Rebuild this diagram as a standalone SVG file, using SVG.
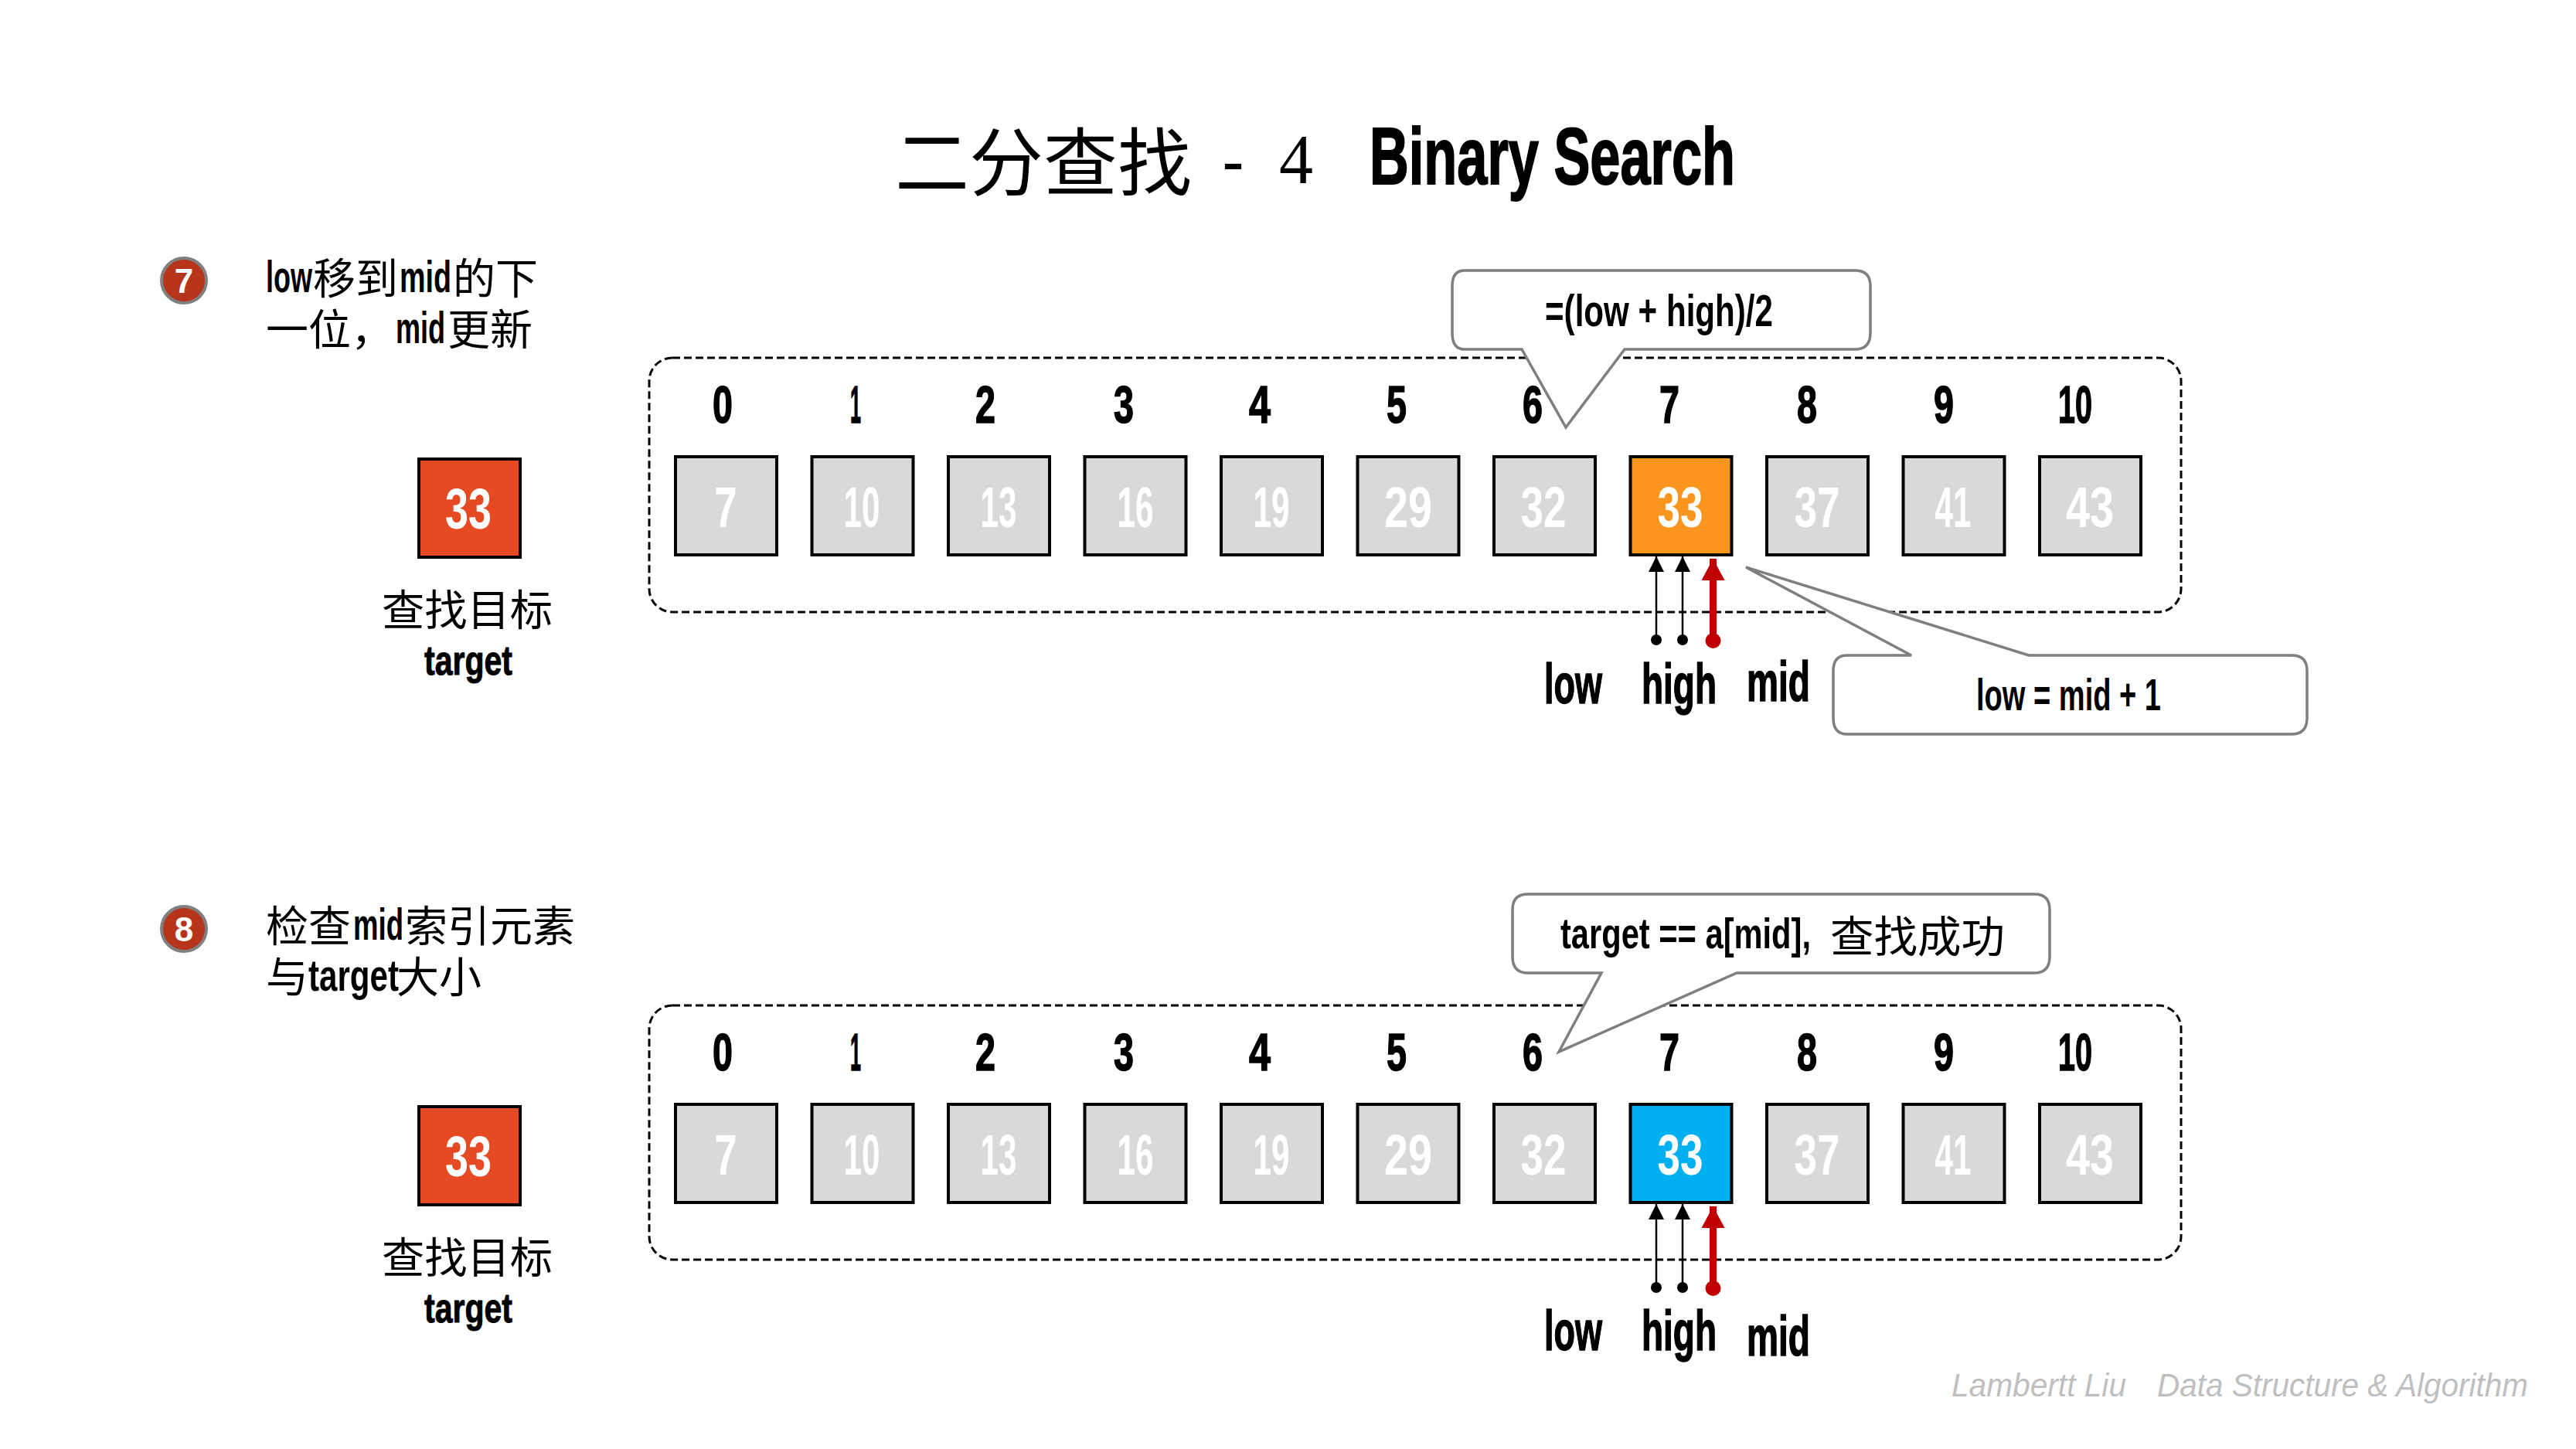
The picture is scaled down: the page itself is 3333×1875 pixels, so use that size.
<svg xmlns="http://www.w3.org/2000/svg" width="3333" height="1875" viewBox="0 0 3333 1875">
<style>
text{font-family:"Liberation Sans Narrow","Liberation Sans","Noto Sans CJK SC",sans-serif;font-weight:700;fill:#000}
.cn{font-family:"Noto Sans CJK SC",sans-serif;font-weight:400}
.idx{font-size:68px;text-anchor:middle;stroke:#000;stroke-width:1.5}
.val{font-size:74px;text-anchor:middle;fill:#fff}
.lab{font-size:72px;stroke:#000;stroke-width:1.5}
.note{font-size:57px}
.desc{font-size:58px}
.desc .cn{font-size:55px}
.box{fill:#d9d9d9;stroke:#000;stroke-width:4}
.frame{fill:none;stroke:#000;stroke-width:3;stroke-dasharray:10 5}
.call{fill:#fff;stroke:#7f7f7f;stroke-width:3.5;stroke-linejoin:miter}
.a{stroke:#000;stroke-width:2.500;fill:none;marker-end:url(#ah);marker-start:url(#ad)}
.m{stroke:#c00000;stroke-width:9;fill:none;marker-end:url(#rh);marker-start:url(#rd)}
.wm{font-family:"Liberation Sans Narrow","Liberation Sans",sans-serif;font-weight:400;font-style:italic;font-size:42px;fill:#bfbfbf}
.badge{fill:#b5341a;stroke:#808080;stroke-width:4}
.badget{font-size:44px;text-anchor:middle;fill:#fff}
</style>
<defs>
<marker id="ah" markerUnits="userSpaceOnUse" markerWidth="22" markerHeight="22" refX="20" refY="10" orient="auto"><path d="M0 0L20 10L0 20Z" fill="#000"/></marker>
<marker id="ad" markerUnits="userSpaceOnUse" markerWidth="16" markerHeight="16" refX="8" refY="8" orient="auto"><circle cx="8" cy="8" r="7" fill="#000"/></marker>
<marker id="rh" markerUnits="userSpaceOnUse" markerWidth="30" markerHeight="32" refX="28" refY="15" orient="auto"><path d="M0 0L28 15L0 30Z" fill="#c00000"/></marker>
<marker id="rd" markerUnits="userSpaceOnUse" markerWidth="22" markerHeight="22" refX="11" refY="11" orient="auto"><circle cx="11" cy="11" r="10" fill="#c00000"/></marker>
</defs>
<rect width="3333" height="1875" fill="#fff"/>
<g id="title">
<text y="245" class="cn" style="font-size:96px"><tspan x="1158" textLength="384" lengthAdjust="spacingAndGlyphs">二分查找</tspan></text>
<text x="1581" y="240" textLength="29" lengthAdjust="spacingAndGlyphs" style="font-size:90px;font-weight:400">-</text>
<text x="1655" y="237" textLength="44" lengthAdjust="spacingAndGlyphs" style="font-size:90px;font-weight:400;font-family:'Liberation Serif',serif">4</text>
<text x="1772" y="238" textLength="473" lengthAdjust="spacingAndGlyphs" style="font-size:104px;stroke:#000;stroke-width:2">Binary Search</text>
</g>
<g id="step7">
<g id="badge7"><circle class="badge" cx="238" cy="363" r="29"/><text class="badget" x="238" y="379">7</text></g>
<text class="desc" y="378"><tspan x="344" textLength="60" lengthAdjust="spacingAndGlyphs">low</tspan><tspan class="cn" x="405" y="380">移到</tspan><tspan x="517" y="378" textLength="67" lengthAdjust="spacingAndGlyphs">mid</tspan><tspan class="cn" x="586" y="380">的下</tspan></text>
<text class="desc" y="446"><tspan class="cn" x="344">一位，</tspan><tspan x="512" y="444" textLength="64" lengthAdjust="spacingAndGlyphs">mid</tspan><tspan class="cn" x="579" y="446">更新</tspan></text>
</g>
<g id="target7">
<rect x="542" y="594" width="131" height="127" fill="#e64a23" stroke="#000" stroke-width="4"/>
<text class="val" x="606" y="684" textLength="60" lengthAdjust="spacingAndGlyphs">33</text>
<text class="cn" x="494" y="809" textLength="221" lengthAdjust="spacingAndGlyphs" style="font-size:55px">查找目标</text>
<text x="549" y="873" textLength="114" lengthAdjust="spacingAndGlyphs" style="font-size:54px;stroke:#000;stroke-width:1">target</text>
</g>
<g id="array7">
<rect class="frame" x="840" y="463" width="1982" height="329" rx="30"/>
<text class="idx" x="935" y="547" textLength="26" lengthAdjust="spacingAndGlyphs">0</text>
<text class="idx" x="1107" y="547" textLength="14" lengthAdjust="spacingAndGlyphs">1</text>
<text class="idx" x="1275" y="547" textLength="26" lengthAdjust="spacingAndGlyphs">2</text>
<text class="idx" x="1454" y="547" textLength="26" lengthAdjust="spacingAndGlyphs">3</text>
<text class="idx" x="1630" y="547" textLength="28" lengthAdjust="spacingAndGlyphs">4</text>
<text class="idx" x="1807" y="547" textLength="26" lengthAdjust="spacingAndGlyphs">5</text>
<text class="idx" x="1983" y="547" textLength="26" lengthAdjust="spacingAndGlyphs">6</text>
<text class="idx" x="2160" y="547" textLength="26" lengthAdjust="spacingAndGlyphs">7</text>
<text class="idx" x="2338" y="547" textLength="26" lengthAdjust="spacingAndGlyphs">8</text>
<text class="idx" x="2515" y="547" textLength="26" lengthAdjust="spacingAndGlyphs">9</text>
<text class="idx" x="2685" y="547" textLength="44" lengthAdjust="spacingAndGlyphs">10</text>
<g id="r1c0"><rect class="box" x="874" y="591" width="131" height="127"/><text class="val" x="939" y="682" textLength="29" lengthAdjust="spacingAndGlyphs">7</text></g>
<g id="r1c1"><rect class="box" x="1050.500" y="591" width="131" height="127"/><text class="val" x="1115" y="682" textLength="47" lengthAdjust="spacingAndGlyphs">10</text></g>
<g id="r1c2"><rect class="box" x="1227" y="591" width="131" height="127"/><text class="val" x="1292" y="682" textLength="47" lengthAdjust="spacingAndGlyphs">13</text></g>
<g id="r1c3"><rect class="box" x="1403.500" y="591" width="131" height="127"/><text class="val" x="1469" y="682" textLength="47" lengthAdjust="spacingAndGlyphs">16</text></g>
<g id="r1c4"><rect class="box" x="1580" y="591" width="131" height="127"/><text class="val" x="1645" y="682" textLength="47" lengthAdjust="spacingAndGlyphs">19</text></g>
<g id="r1c5"><rect class="box" x="1756.500" y="591" width="131" height="127"/><text class="val" x="1822" y="682" textLength="62" lengthAdjust="spacingAndGlyphs">29</text></g>
<g id="r1c6"><rect class="box" x="1933" y="591" width="131" height="127"/><text class="val" x="1997" y="682" textLength="59" lengthAdjust="spacingAndGlyphs">32</text></g>
<g id="r1c7"><rect class="box" style="fill:#fa961e" x="2109.500" y="591" width="131" height="127"/><text class="val" x="2174" y="682" textLength="59" lengthAdjust="spacingAndGlyphs">33</text></g>
<g id="r1c8"><rect class="box" x="2286" y="591" width="131" height="127"/><text class="val" x="2351" y="682" textLength="59" lengthAdjust="spacingAndGlyphs">37</text></g>
<g id="r1c9"><rect class="box" x="2462.500" y="591" width="131" height="127"/><text class="val" x="2527" y="682" textLength="47" lengthAdjust="spacingAndGlyphs">41</text></g>
<g id="r1c10"><rect class="box" x="2639" y="591" width="131" height="127"/><text class="val" x="2704" y="682" textLength="62" lengthAdjust="spacingAndGlyphs">43</text></g>
</g>
<g id="connectors7">
<path class="a" d="M2143 828V720"/>
<path class="a" d="M2177 828V720"/>
<path class="m" d="M2216.500 829V723"/>
</g>
<g id="pointers7">
<text class="lab" x="1998" y="910" textLength="75" lengthAdjust="spacingAndGlyphs">low</text>
<text class="lab" x="2124" y="910" textLength="97" lengthAdjust="spacingAndGlyphs">high</text>
<text class="lab" x="2260" y="907" textLength="82" lengthAdjust="spacingAndGlyphs">mid</text>
</g>
<g id="callout7a">
<path class="call" d="M1895 350H2400Q2420 350 2420 370V431Q2420 452 2400 452H2102L2026 553L1969 452H1895Q1879 452 1879 431V370Q1879 350 1895 350Z"/>
<text class="note" x="1999" y="422" textLength="295" lengthAdjust="spacingAndGlyphs">=(low + high)/2</text>
</g>
<g id="callout7b">
<path class="call" d="M2390 848H2473L2259 734L2625 848H2965Q2985 848 2985 868V929Q2985 950 2965 950H2390Q2372 950 2372 929V868Q2372 848 2390 848Z"/>
<text class="note" x="2557" y="919" textLength="239" lengthAdjust="spacingAndGlyphs">low = mid + 1</text>
</g>
<g id="step8">
<g id="badge8"><circle class="badge" cx="238" cy="1202" r="29"/><text class="badget" x="238" y="1218">8</text></g>
<text class="desc" y="1218"><tspan class="cn" x="344">检查</tspan><tspan x="457" y="1216" textLength="65" lengthAdjust="spacingAndGlyphs">mid</tspan><tspan class="cn" x="524" y="1218">索引元素</tspan></text>
<text class="desc" y="1284"><tspan class="cn" x="344">与</tspan><tspan x="399" y="1282" textLength="117" lengthAdjust="spacingAndGlyphs">target</tspan><tspan class="cn" x="513" y="1284">大小</tspan></text>
</g>
<g id="target8">
<rect x="542" y="1432" width="131" height="127" fill="#e64a23" stroke="#000" stroke-width="4"/>
<text class="val" x="606" y="1522" textLength="60" lengthAdjust="spacingAndGlyphs">33</text>
<text class="cn" x="494" y="1647" textLength="221" lengthAdjust="spacingAndGlyphs" style="font-size:55px">查找目标</text>
<text x="549" y="1711" textLength="114" lengthAdjust="spacingAndGlyphs" style="font-size:54px;stroke:#000;stroke-width:1">target</text>
</g>
<g id="array8">
<rect class="frame" x="840" y="1301" width="1982" height="329" rx="30"/>
<text class="idx" x="935" y="1385" textLength="26" lengthAdjust="spacingAndGlyphs">0</text>
<text class="idx" x="1107" y="1385" textLength="14" lengthAdjust="spacingAndGlyphs">1</text>
<text class="idx" x="1275" y="1385" textLength="26" lengthAdjust="spacingAndGlyphs">2</text>
<text class="idx" x="1454" y="1385" textLength="26" lengthAdjust="spacingAndGlyphs">3</text>
<text class="idx" x="1630" y="1385" textLength="28" lengthAdjust="spacingAndGlyphs">4</text>
<text class="idx" x="1807" y="1385" textLength="26" lengthAdjust="spacingAndGlyphs">5</text>
<text class="idx" x="1983" y="1385" textLength="26" lengthAdjust="spacingAndGlyphs">6</text>
<text class="idx" x="2160" y="1385" textLength="26" lengthAdjust="spacingAndGlyphs">7</text>
<text class="idx" x="2338" y="1385" textLength="26" lengthAdjust="spacingAndGlyphs">8</text>
<text class="idx" x="2515" y="1385" textLength="26" lengthAdjust="spacingAndGlyphs">9</text>
<text class="idx" x="2685" y="1385" textLength="44" lengthAdjust="spacingAndGlyphs">10</text>
<g id="r2c0"><rect class="box" x="874" y="1429" width="131" height="127"/><text class="val" x="939" y="1520" textLength="29" lengthAdjust="spacingAndGlyphs">7</text></g>
<g id="r2c1"><rect class="box" x="1050.500" y="1429" width="131" height="127"/><text class="val" x="1115" y="1520" textLength="47" lengthAdjust="spacingAndGlyphs">10</text></g>
<g id="r2c2"><rect class="box" x="1227" y="1429" width="131" height="127"/><text class="val" x="1292" y="1520" textLength="47" lengthAdjust="spacingAndGlyphs">13</text></g>
<g id="r2c3"><rect class="box" x="1403.500" y="1429" width="131" height="127"/><text class="val" x="1469" y="1520" textLength="47" lengthAdjust="spacingAndGlyphs">16</text></g>
<g id="r2c4"><rect class="box" x="1580" y="1429" width="131" height="127"/><text class="val" x="1645" y="1520" textLength="47" lengthAdjust="spacingAndGlyphs">19</text></g>
<g id="r2c5"><rect class="box" x="1756.500" y="1429" width="131" height="127"/><text class="val" x="1822" y="1520" textLength="62" lengthAdjust="spacingAndGlyphs">29</text></g>
<g id="r2c6"><rect class="box" x="1933" y="1429" width="131" height="127"/><text class="val" x="1997" y="1520" textLength="59" lengthAdjust="spacingAndGlyphs">32</text></g>
<g id="r2c7"><rect class="box" style="fill:#00b0f0" x="2109.500" y="1429" width="131" height="127"/><text class="val" x="2174" y="1520" textLength="59" lengthAdjust="spacingAndGlyphs">33</text></g>
<g id="r2c8"><rect class="box" x="2286" y="1429" width="131" height="127"/><text class="val" x="2351" y="1520" textLength="59" lengthAdjust="spacingAndGlyphs">37</text></g>
<g id="r2c9"><rect class="box" x="2462.500" y="1429" width="131" height="127"/><text class="val" x="2527" y="1520" textLength="47" lengthAdjust="spacingAndGlyphs">41</text></g>
<g id="r2c10"><rect class="box" x="2639" y="1429" width="131" height="127"/><text class="val" x="2704" y="1520" textLength="62" lengthAdjust="spacingAndGlyphs">43</text></g>
</g>
<g id="connectors8">
<path class="a" d="M2143 1666V1558"/>
<path class="a" d="M2177 1666V1558"/>
<path class="m" d="M2216.500 1667V1561"/>
</g>
<g id="pointers8">
<text class="lab" x="1998" y="1747" textLength="75" lengthAdjust="spacingAndGlyphs">low</text>
<text class="lab" x="2124" y="1747" textLength="97" lengthAdjust="spacingAndGlyphs">high</text>
<text class="lab" x="2260" y="1754" textLength="82" lengthAdjust="spacingAndGlyphs">mid</text>
</g>
<g id="callout8">
<path class="call" d="M1977 1157H2632Q2652 1157 2652 1177V1238Q2652 1259 2632 1259H2247L2017 1361L2072 1259H1977Q1957 1259 1957 1238V1177Q1957 1157 1977 1157Z"/>
<text x="2019" y="1227" textLength="324" lengthAdjust="spacingAndGlyphs" style="font-size:56px">target == a[mid],</text>
<text class="cn" x="2368" y="1232" textLength="226" lengthAdjust="spacingAndGlyphs" style="font-size:56px">查找成功</text>
</g>
<g id="watermark">
<text class="wm" x="2525" y="1807" textLength="226" lengthAdjust="spacingAndGlyphs">Lambertt Liu</text>
<text class="wm" x="2791" y="1807" textLength="480" lengthAdjust="spacingAndGlyphs">Data Structure &amp; Algorithm</text>
</g>
</svg>
